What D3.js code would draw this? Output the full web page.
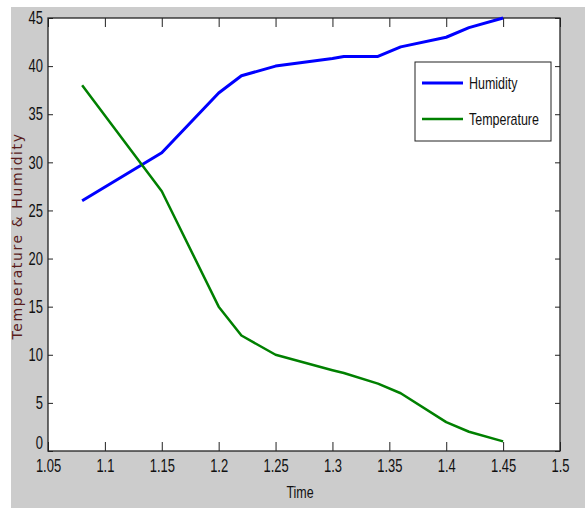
<!DOCTYPE html>
<html>
<head>
<meta charset="utf-8">
<script src="https://cdn.jsdelivr.net/npm/d3@7"></script>
<style>
  body { margin: 0; background: #fff; }
  .tick text { font-family: "Liberation Sans", Arial, sans-serif; }
</style>
</head>
<body>
<script>
// data
var time = [1.08, 1.15, 1.2, 1.22, 1.25, 1.3, 1.31, 1.34, 1.36, 1.4, 1.42, 1.45];
var humidity = [26, 31, 37.2, 39, 40, 40.8, 41, 41, 42, 43, 44, 45];
var temperature = [38, 27, 15, 12, 10, 8.4, 8.1, 7, 6, 3, 2, 1];
var xTicks = [1.05, 1.1, 1.15, 1.2, 1.25, 1.3, 1.35, 1.4, 1.45, 1.5];
var yTicks = [0, 5, 10, 15, 20, 25, 30, 35, 40, 45];
var seriesNames = ["Humidity", "Temperature"];
var seriesColors = ["#0000ff", "#008000"];

var W = 585, H = 508;
var margin = {top: 18, right: 25, bottom: 57, left: 48},
    width = W - margin.left - margin.right,
    height = H - margin.top - margin.bottom;
var sx = 0.72; // squash the fonts like the narrow matlab font

var svg = d3.select("body").append("svg")
    .attr("width", W)
    .attr("height", H);

// grey figure background
svg.append("rect")
    .attr("x", 11).attr("y", 7)
    .attr("width", W - 11).attr("height", H - 7)
    .attr("fill", "#cccccc");

var g = svg.append("g")
    .attr("transform", "translate(" + margin.left + "," + margin.top + ")");

var x = d3.scaleLinear().domain([1.05, 1.5]).range([0, width]);
var y = d3.scaleLinear().domain([0, 45]).range([height, 0]);

g.append("rect")
    .attr("width", width).attr("height", height)
    .attr("fill", "#fff");

// axes, ticks point inward like matlab
function styleAxis(sel) {
    sel.select(".domain").remove();
    sel.selectAll(".tick line").attr("stroke", "#222");
}

var fmt = function(d) { return String(+d.toFixed(2)); };

g.append("g")
    .attr("transform", "translate(0," + height + ")")
    .call(d3.axisBottom(x).tickValues(xTicks).tickFormat(fmt).tickSizeInner(-9).tickSizeOuter(0))
    .call(styleAxis)
    .call(function(s) {
        s.selectAll("text")
            .attr("y", 8).attr("dy", "0.71em")
            .attr("font-size", 18).attr("fill", "#111")
            .attr("transform", "scale(" + sx + ",1)");
    });

g.append("g")
    .call(d3.axisTop(x).tickValues(xTicks).tickFormat("").tickSizeInner(-9).tickSizeOuter(0))
    .call(styleAxis);

g.append("g")
    .call(d3.axisLeft(y).tickValues(yTicks).tickSizeInner(-5).tickSizeOuter(0))
    .call(styleAxis)
    .call(function(s) {
        s.selectAll("text")
            .attr("x", -5 / sx)
            .attr("font-size", 18).attr("fill", "#111")
            .attr("dy", function(d) { return d == 0 ? "-0.12em" : "0.32em"; })
            .attr("transform", "scale(" + sx + ",1)");
    });

g.append("g")
    .attr("transform", "translate(" + width + ",0)")
    .call(d3.axisRight(y).tickValues(yTicks).tickFormat("").tickSizeInner(-5).tickSizeOuter(0))
    .call(styleAxis);

// box
g.append("rect")
    .attr("width", width).attr("height", height)
    .attr("fill", "none").attr("stroke", "#222").attr("stroke-width", 1.3);

// lines
var series = [humidity, temperature];
var line = d3.line()
    .x(function(d, i) { return x(time[i]); })
    .y(function(d) { return y(d); });

series.forEach(function(vals, k) {
    g.append("path")
        .datum(vals)
        .attr("fill", "none")
        .attr("stroke", seriesColors[k])
        .attr("stroke-width", k == 0 ? 3 : 2.5)
        .attr("stroke-linejoin", "round")
        .attr("d", line);
});

// legend
var lg = svg.append("g").attr("transform", "translate(415,62)");
lg.append("rect")
    .attr("width", 136).attr("height", 79)
    .attr("fill", "#fff").attr("stroke", "#222").attr("stroke-width", 1);
seriesNames.forEach(function(name, k) {
    var yy = 21 + k * 36;
    lg.append("line")
        .attr("x1", 7).attr("x2", 48)
        .attr("y1", yy).attr("y2", yy)
        .attr("stroke", seriesColors[k]).attr("stroke-width", k == 0 ? 3 : 2.5);
    lg.append("text")
        .attr("x", 54 / 0.78).attr("y", yy + 6)
        .attr("transform", "scale(0.78,1)")
        .attr("font-family", "'Liberation Sans', sans-serif")
        .attr("font-size", 16)
        .attr("fill", "#111")
        .text(name);
});

// axis labels
svg.append("text")
    .attr("x", 300 / 0.78).attr("y", 498)
    .attr("transform", "scale(0.78,1)")
    .attr("text-anchor", "middle")
    .attr("font-family", "'Liberation Sans', sans-serif")
    .attr("font-size", 16)
    .attr("fill", "#111")
    .text("Time");

svg.append("text")
    .attr("transform", "translate(22,236) rotate(-90)")
    .attr("text-anchor", "middle")
    .attr("font-family", "'DejaVu Sans', sans-serif")
    .attr("font-size", 14)
    .attr("letter-spacing", 1.6)
    .attr("fill", "#5a1c1c")
    .text("Temperature & Humidity");
</script>
</body>
</html>
